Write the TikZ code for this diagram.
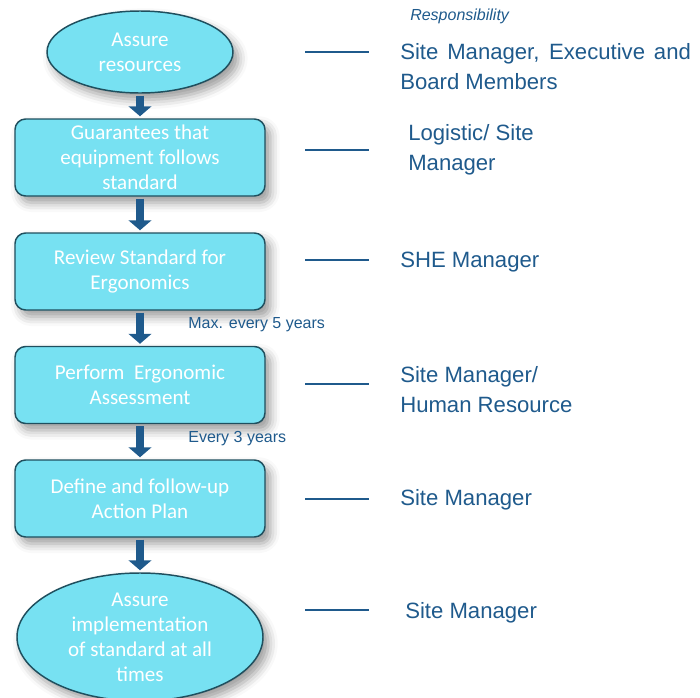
\documentclass[tikz,border=0pt]{standalone}
\usepackage{fontspec}
\setmainfont{Carlito}
\newfontfamily\arialfont{Liberation Sans}
\usetikzlibrary{shapes.geometric,arrows.meta,shadows,shadows.blur}
\definecolor{stepfill}{HTML}{77E1F2}
\definecolor{stepborder}{HTML}{1F4F5E}
\definecolor{respblue}{HTML}{1F5A8C}
\tikzstyle{stepshape}=[fill=stepfill,draw=stepborder,line width=1.1pt,text=white,align=center,
  font=\fontsize{15.8pt}{18.75pt}\selectfont,inner sep=0pt,
  blur shadow={shadow xshift=4pt,shadow yshift=-5pt,shadow blur radius=7pt,shadow opacity=40}]
\tikzstyle{oval}=[stepshape,ellipse]
\tikzstyle{stepbox}=[stepshape,rectangle,rounded corners=8pt,minimum width=187.5pt,minimum height=57.75pt]
\tikzstyle{flowarrow} = [draw,respblue,line width=6.5pt,-{Triangle[width=17pt,length=7.5pt]},shorten <=1.5pt,shorten >=1.5pt]
\tikzstyle{resline} = [draw,respblue,line width=1.3pt]
\tikzstyle{resp} = [anchor=west,align=left,inner sep=0pt,text=respblue,font=\arialfont\fontsize{16.6pt}{22.5pt}\selectfont]
\tikzstyle{steplabel} = [anchor=west,inner sep=0pt,text=respblue,font=\arialfont\fontsize{12pt}{14pt}\selectfont]
\begin{document}
\begin{tikzpicture}[x=0.75pt,y=-0.75pt]
    \useasboundingbox (0,0) rectangle (700,697);

    \node[oval,minimum width=139.5pt,minimum height=61.5pt] (resources) at (140,52) {Assure\\resources};
    \foreach \pos/ \name/ \txt in {{(140,157.5)/equip/{Guarantees that\\equipment follows\\standard}},
        {(140,271.5)/review/{Review Standard for\\Ergonomics}},
        {(140,385)/assess/{Perform\ \ Ergonomic\\Assessment}},
        {(140,498.5)/plan/{Define and follow-up\\Action Plan}}}
        \node[stepbox] (\name) at \pos {\txt};
    \node[oval,minimum width=184.5pt,minimum height=96pt] (implement) at (140,637)
        {Assure\\implementation\\of standard at all\\times};

    % arrows between the steps
    \foreach \source/ \dest in {resources/equip, equip/review, plan/implement}
        \path[flowarrow] (\source) -- (\dest);
    \path[flowarrow] (review) -- node[steplabel,xshift=33pt,yshift=2.5pt] {Max. every 5 years} (assess);
    \path[flowarrow] (assess) -- node[steplabel,xshift=33pt,yshift=2.5pt] {Every 3 years} (plan);

    % responsibilities
    \node[anchor=west,inner sep=0pt,text=respblue,font=\arialfont\itshape\fontsize{12pt}{14pt}\selectfont] (head) at (410,16) {Responsibility};
    \node[resp,text width=218pt,align=justify] (r1) at (400,67) {Site Manager, Executive and Board Members};
    \foreach \pos/ \name/ \txt in {{(408,150)/r2/{Logistic/ Site\\Manager}}, {(400,262)/r3/{SHE Manager}},
        {(400,389.5)/r4/{Site Manager/\\Human Resource}}, {(400,500)/r5/{Site Manager}}, {(405,613)/r6/{Site Manager}}}
        \node[resp] (\name) at \pos {\txt};
    \foreach \y/ \name in {52/a, 150/b, 260/c, 384/d, 499/e, 610/f}
        {\coordinate (\name1) at (305,\y);
         \coordinate (\name2) at (369,\y);
         \path[resline] (\name1) -- (\name2);}
\end{tikzpicture}
\end{document}
